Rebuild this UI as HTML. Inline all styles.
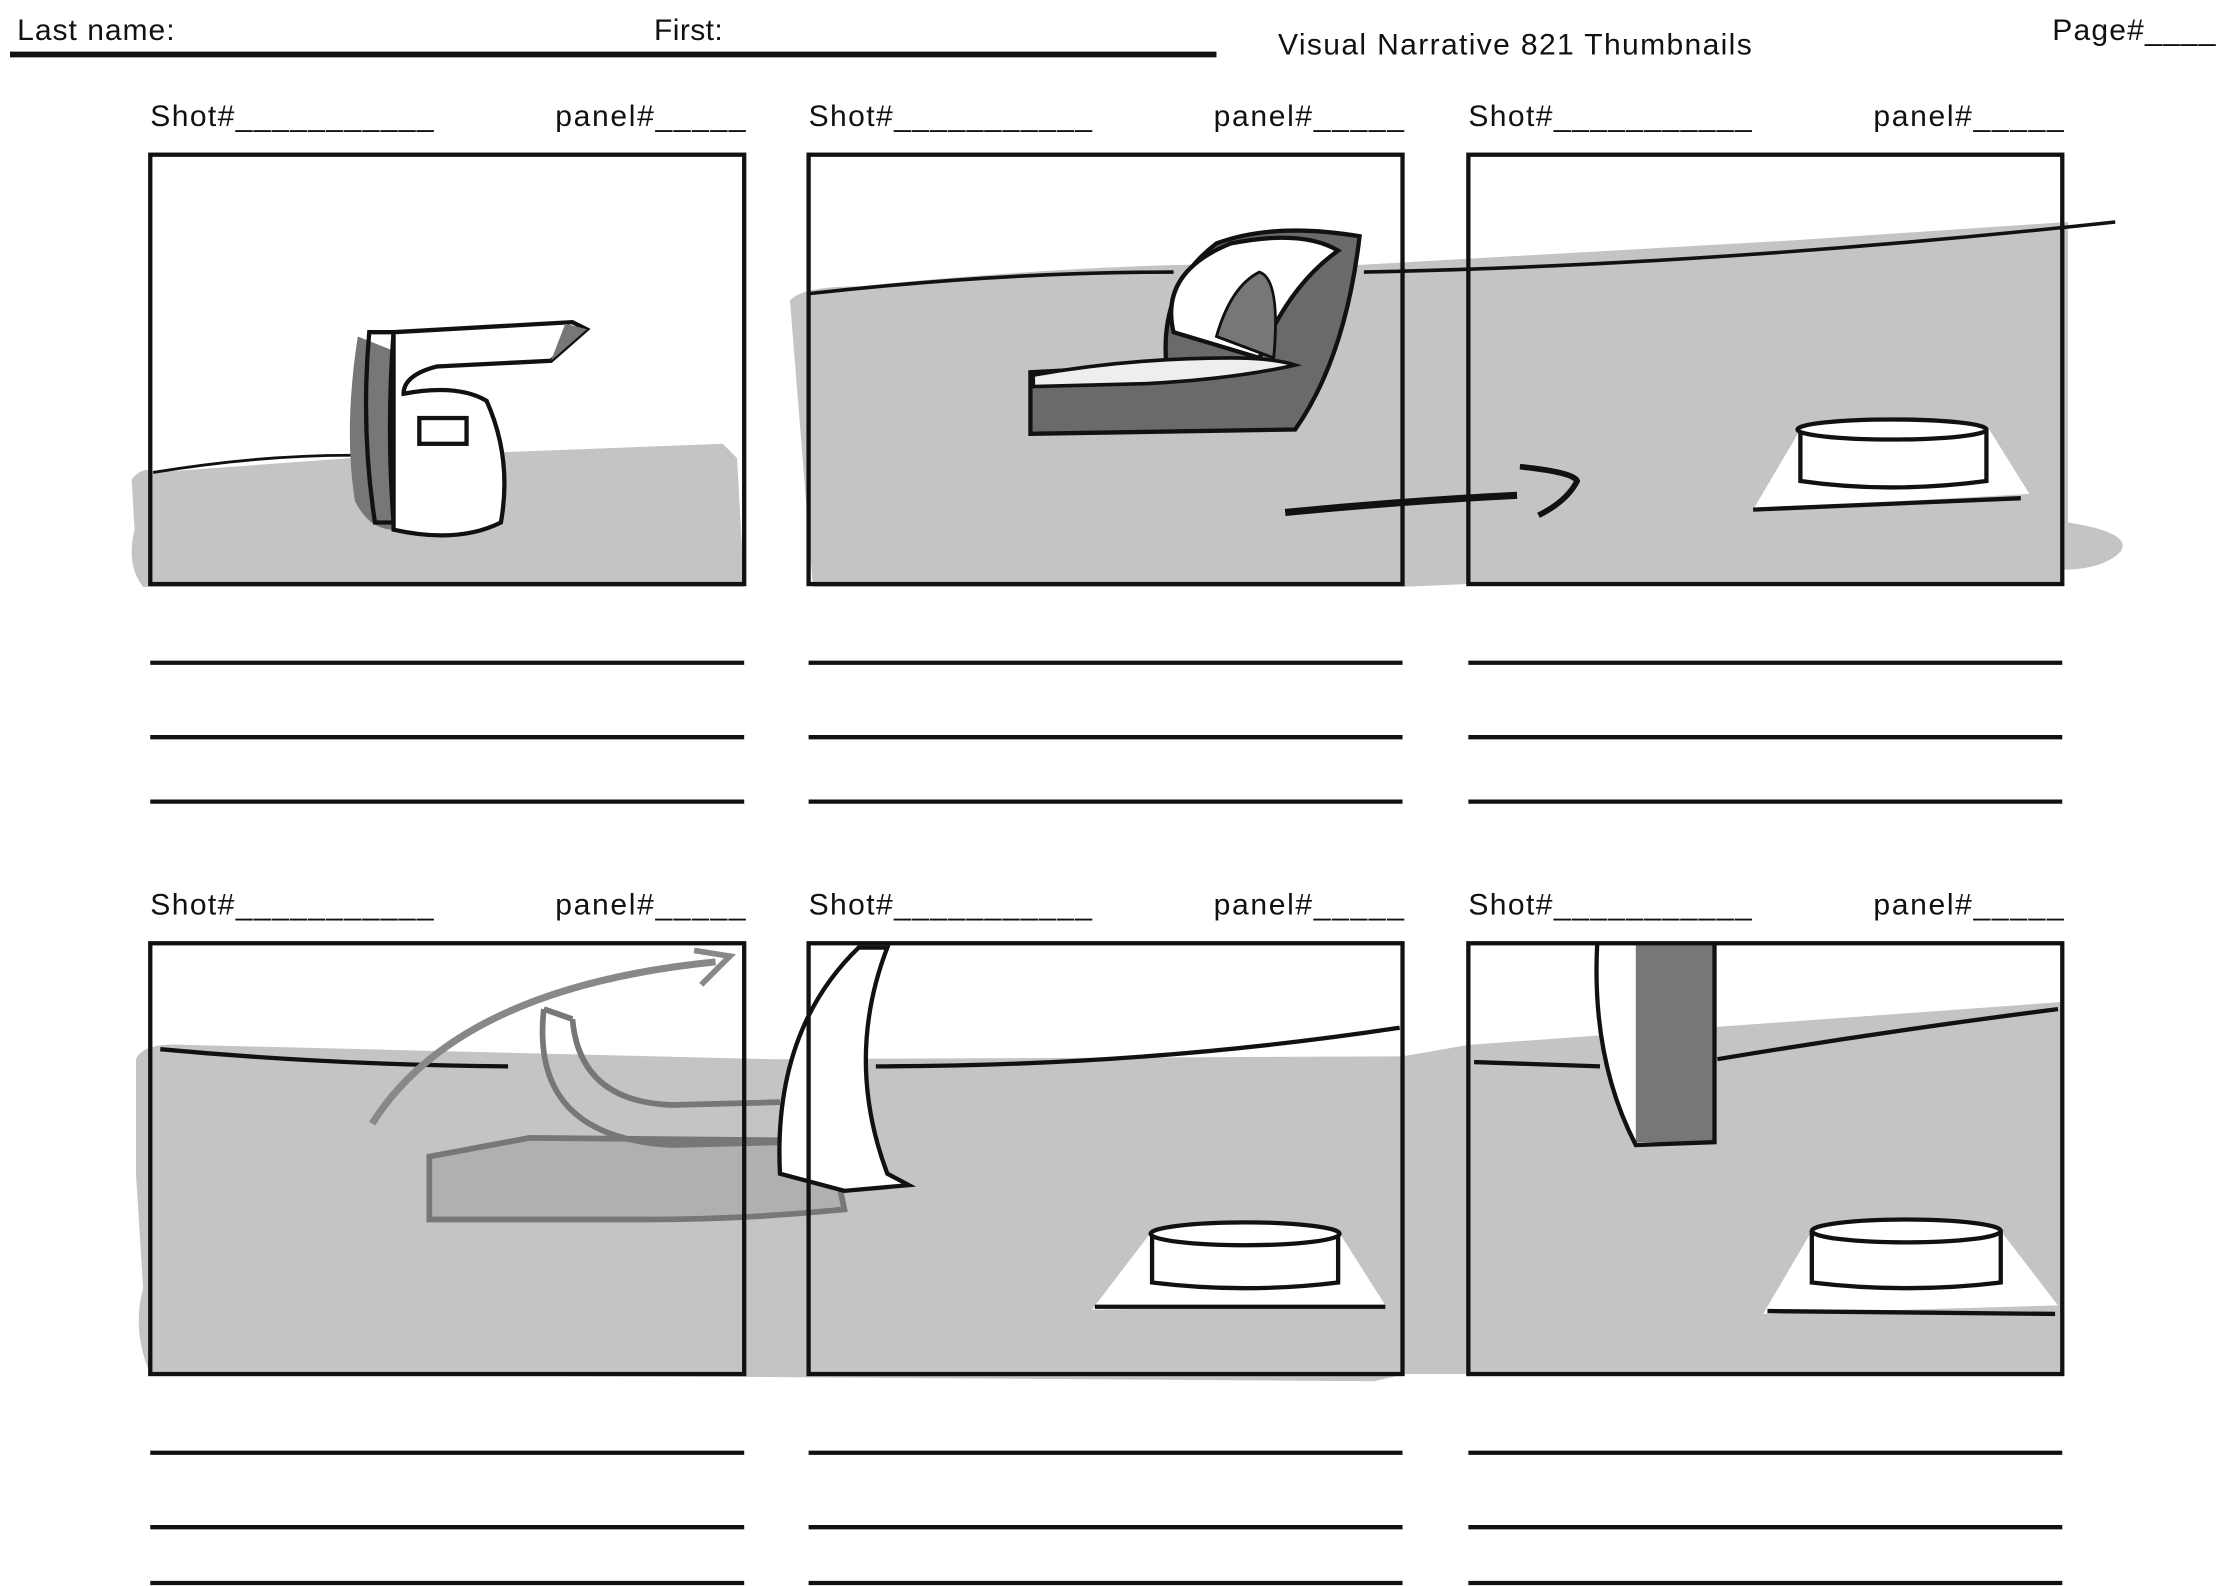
<!DOCTYPE html>
<html><head><meta charset="utf-8"><style>
html,body{margin:0;padding:0;background:#fff;}
svg{display:block;}
text{font-family:"Liberation Sans",sans-serif;font-size:21px;fill:#111;}
</style></head><body>
<svg width="2224" height="1586" viewBox="0 0 1554 1108" xmlns="http://www.w3.org/2000/svg">
<rect width="1554" height="1108" fill="#fff"/>
<text x="12" y="28" textLength="110">Last name:</text>
<text x="457" y="28" textLength="48">First:</text>
<line x1="7" y1="38" x2="850" y2="38" stroke="#111" stroke-width="4"/>
<text x="893" y="38" textLength="331">Visual Narrative 821 Thumbnails</text>
<text x="1434" y="28" textLength="114">Page#____</text>

<path d="M92 335 Q100 325 108 330 L245 320 L505 310 L515 320 L520 410 L100 410 Q88 395 94 370 Z" fill="#c4c4c4"/>
<path d="M552 210 Q560 200 600 200 Q800 180 950 185 L1250 168 L1445 155 L1445 365 Q1490 372 1482 385 Q1470 398 1440 398 L1440 408 L1026 408 L980 410 L568 410 Z" fill="#c4c4c4"/>
<path d="M95 740 Q100 728 130 730 L540 740 L980 738 L1026 730 L1441 700 L1441 960 L982 960 L960 965 L520 962 L105 960 Q92 930 100 900 L95 820 Z" fill="#c4c4c4"/>

<path d="M107 330 Q180 318 245 318" stroke="#111" stroke-width="2" fill="none"/>
<path d="M250 235 Q240 300 248 350 Q258 370 275 370 L275 245 Z" fill="#777"/>
<path d="M258 232 L275 232 Q270 300 275 365 L262 365 Q252 300 258 232 Z" fill="none" stroke="#111" stroke-width="3"/>
<path d="M275 232 L400 225 L410 230 L385 252 L305 256 Q282 262 282 275 Q320 268 340 280 Q358 320 350 365 Q320 380 275 370 Z" fill="#fff" stroke="#111" stroke-width="3"/>
<path d="M385 252 L410 230 L395 226 Z" fill="#777"/>
<rect x="293" y="292" width="33" height="18" fill="none" stroke="#111" stroke-width="3"/>

<path d="M566 205 Q700 190 820 190" stroke="#111" stroke-width="2.5" fill="none"/>
<path d="M953 190 Q1200 185 1478 155" stroke="#111" stroke-width="2.5" fill="none"/>
<path d="M720 260 L815 255 Q810 200 850 170 Q890 155 950 165 Q940 250 905 300 L720 303 Z" fill="#6a6a6a" stroke="#111" stroke-width="3"/>
<path d="M820 232 Q810 190 860 170 Q910 160 935 175 Q900 200 880 250 Z" fill="#fff" stroke="#111" stroke-width="3"/>
<path d="M850 235 Q860 200 880 190 Q895 195 890 250 Z" fill="#777" stroke="#111" stroke-width="2"/>
<path d="M722 262 Q790 250 860 250 Q890 250 905 255 Q860 265 800 268 L722 270 Z" fill="#eee" stroke="#111" stroke-width="2.5"/>
<path d="M898 358 Q980 350 1060 346" stroke="#111" stroke-width="5" fill="none"/>
<path d="M1062 326 Q1100 330 1102 336 Q1095 350 1075 360" stroke="#111" stroke-width="4" fill="none"/>

<path d="M1225 356 L1258 300 L1390 300 L1418 345 Z" fill="#fff"/>
<path d="M1225 356 L1412 348" stroke="#111" stroke-width="3" fill="none"/>
<path d="M1258 300 L1258 336 Q1320 345 1388 336 L1388 300" fill="#fff" stroke="#111" stroke-width="3"/>
<ellipse cx="1322" cy="300" rx="66" ry="7" fill="#fff" stroke="#111" stroke-width="3"/>

<path d="M112 733 Q230 744 355 745" stroke="#111" stroke-width="3" fill="none"/>
<path d="M260 785 Q320 690 500 672" stroke="#888" stroke-width="5" fill="none"/>
<path d="M485 664 L510 668 L490 688" stroke="#888" stroke-width="4" fill="none"/>
<path d="M300 808 L370 795 L580 797 L590 845 Q520 852 450 852 L300 852 Z" fill="#b0b0b0" stroke="#777" stroke-width="4"/>
<path d="M380 705 Q370 795 470 800 L585 797" stroke="#777" stroke-width="4" fill="none"/>
<path d="M400 712 Q405 770 470 772 L545 770" stroke="#777" stroke-width="4" fill="none"/>
<path d="M380 705 L400 712" stroke="#777" stroke-width="4"/>

<path d="M545 820 Q540 720 600 662 L620 662 Q590 740 620 820 L635 828 L590 832 Z" fill="#fff" stroke="#111" stroke-width="3"/>
<path d="M612 745 Q800 745 978 718" stroke="#111" stroke-width="3" fill="none"/>
<path d="M763 915 L805 860 L935 860 L968 912 Z" fill="#fff"/>
<path d="M765 913 L968 913" stroke="#111" stroke-width="3"/>
<path d="M805 860 L805 896 Q870 904 935 896 L935 860" fill="#fff" stroke="#111" stroke-width="3"/>
<ellipse cx="870" cy="862" rx="66" ry="8" fill="#fff" stroke="#111" stroke-width="3"/>

<path d="M1030 742 L1118 745" stroke="#111" stroke-width="3"/>
<path d="M1200 740 Q1320 720 1438 705" stroke="#111" stroke-width="3" fill="none"/>
<path d="M1116 660 Q1112 740 1143 800 L1198 798 L1198 660 Z" fill="#fff"/>
<rect x="1143" y="660" width="54" height="138" fill="#777"/>
<path d="M1116 660 Q1112 740 1143 800 L1198 798 L1198 660" fill="none" stroke="#111" stroke-width="3"/>
<path d="M1232 918 L1266 860 L1398 860 L1438 912 Z" fill="#fff"/>
<path d="M1235 916 L1436 918" stroke="#111" stroke-width="3"/>
<path d="M1266 860 L1266 896 Q1332 904 1398 896 L1398 860" fill="#fff" stroke="#111" stroke-width="3"/>
<ellipse cx="1332" cy="860" rx="66" ry="8" fill="#fff" stroke="#111" stroke-width="3"/>

<g fill="none" stroke="#111" stroke-width="3">
<rect x="105" y="108" width="415" height="300"/>
<rect x="565" y="108" width="415" height="300"/>
<rect x="1026" y="108" width="415" height="300"/>
<rect x="105" y="659" width="415" height="301"/>
<rect x="565" y="659" width="415" height="301"/>
<rect x="1026" y="659" width="415" height="301"/>
</g>
<g stroke="#111" stroke-width="3">
<line x1="105" y1="463" x2="520" y2="463"/><line x1="565" y1="463" x2="980" y2="463"/><line x1="1026" y1="463" x2="1441" y2="463"/>
<line x1="105" y1="515" x2="520" y2="515"/><line x1="565" y1="515" x2="980" y2="515"/><line x1="1026" y1="515" x2="1441" y2="515"/>
<line x1="105" y1="560" x2="520" y2="560"/><line x1="565" y1="560" x2="980" y2="560"/><line x1="1026" y1="560" x2="1441" y2="560"/>
<line x1="105" y1="1015" x2="520" y2="1015"/><line x1="565" y1="1015" x2="980" y2="1015"/><line x1="1026" y1="1015" x2="1441" y2="1015"/>
<line x1="105" y1="1067" x2="520" y2="1067"/><line x1="565" y1="1067" x2="980" y2="1067"/><line x1="1026" y1="1067" x2="1441" y2="1067"/>
<line x1="105" y1="1106" x2="520" y2="1106"/><line x1="565" y1="1106" x2="980" y2="1106"/><line x1="1026" y1="1106" x2="1441" y2="1106"/>
</g>
<g>
<text x="105" y="88" textLength="198">Shot#___________</text><text x="388" y="88" textLength="133">panel#_____</text>
<text x="565" y="88" textLength="198">Shot#___________</text><text x="848" y="88" textLength="133">panel#_____</text>
<text x="1026" y="88" textLength="198">Shot#___________</text><text x="1309" y="88" textLength="133">panel#_____</text>
<text x="105" y="639" textLength="198">Shot#___________</text><text x="388" y="639" textLength="133">panel#_____</text>
<text x="565" y="639" textLength="198">Shot#___________</text><text x="848" y="639" textLength="133">panel#_____</text>
<text x="1026" y="639" textLength="198">Shot#___________</text><text x="1309" y="639" textLength="133">panel#_____</text>
</g>
</svg>
</body></html>
